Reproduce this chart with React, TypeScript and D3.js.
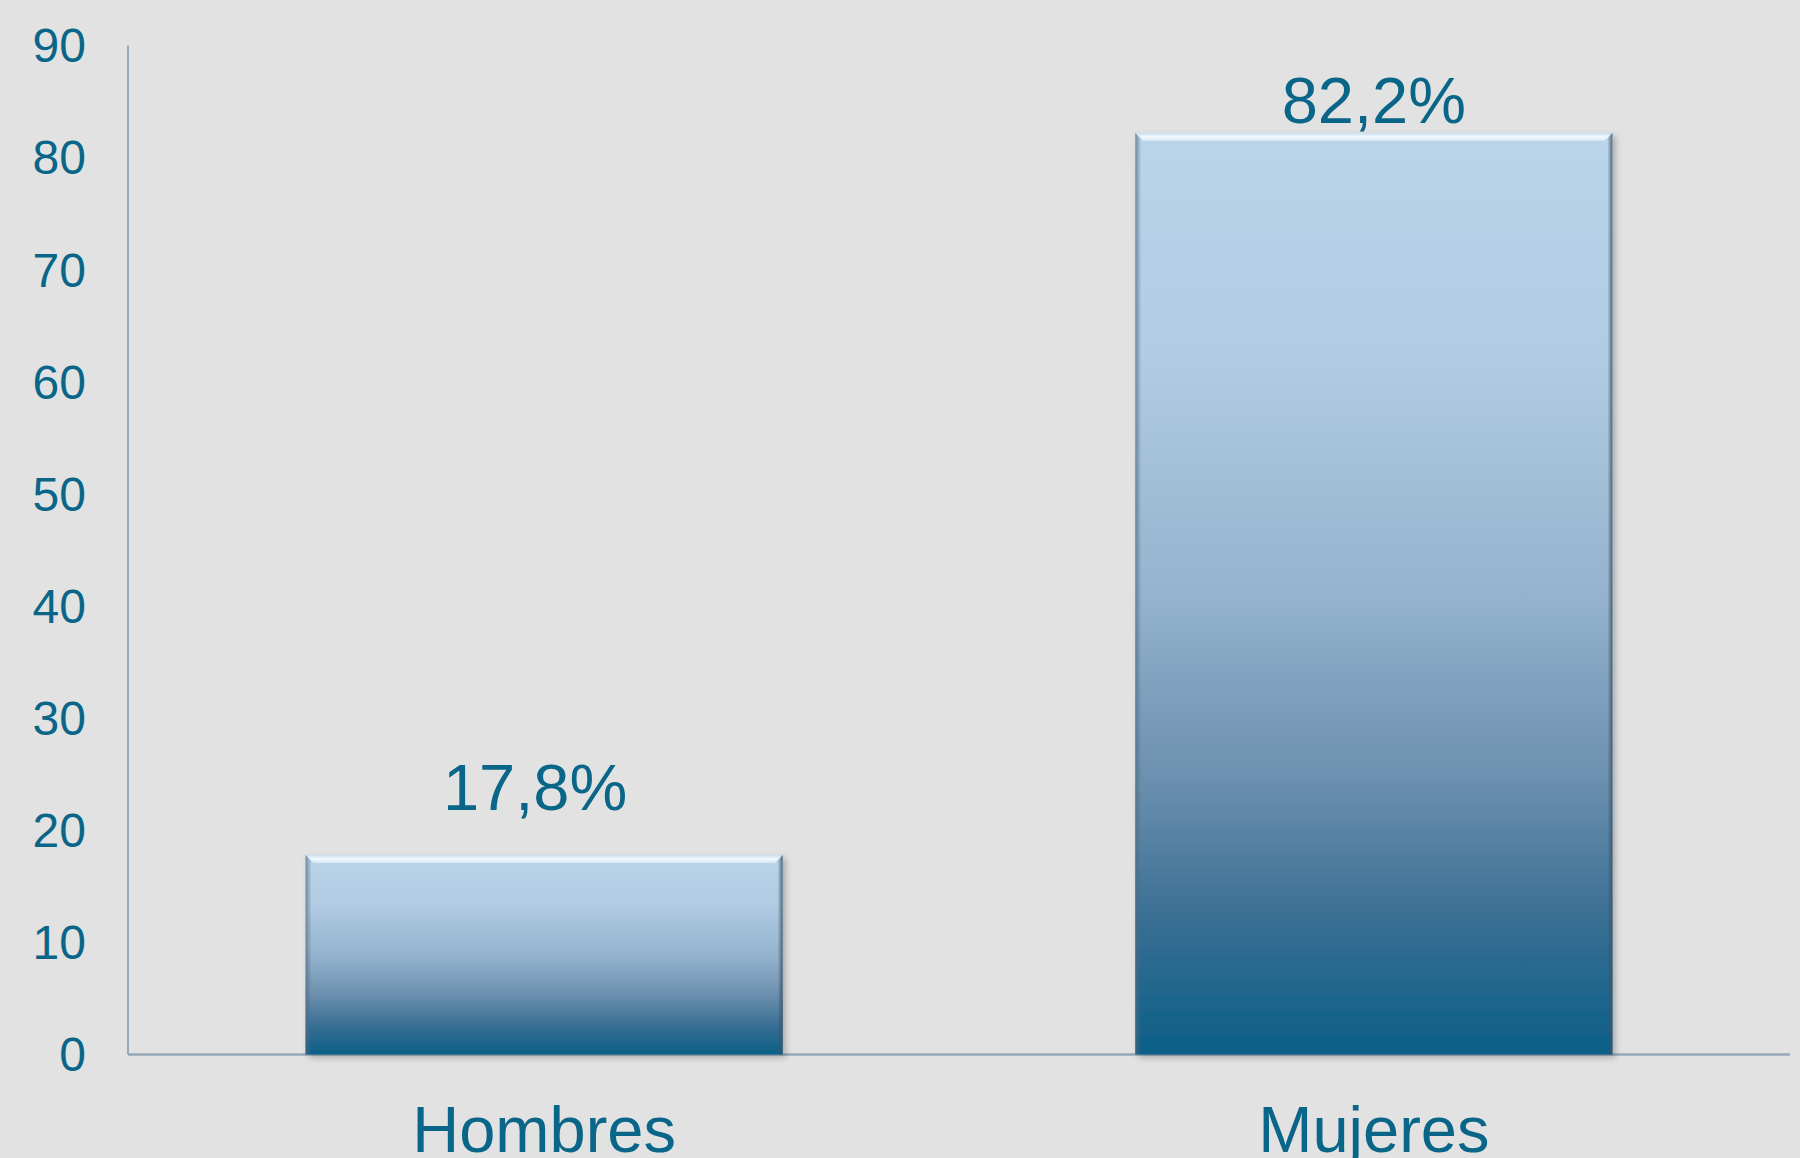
import React from "react";
import * as d3 from "d3";

const categories = ["Hombres", "Mujeres"];
const values = [17.8, 82.2];
const valueLabels = ["17,8%", "82,2%"];
const yTicks = [0, 10, 20, 30, 40, 50, 60, 70, 80, 90];

const W = 1800;
const H = 1158;
const TEXT = "#0A6688";
const FONT = "'Liberation Sans', Arial, Helvetica, sans-serif";

export default function App() {
  const x0 = 128;
  const x1 = 1790;
  const yBase = 1054.5;
  const y = d3.scaleLinear().domain([0, 90]).range([yBase, 45.5]);
  const x = d3
    .scaleBand<string>()
    .domain(categories)
    .range([x0, x1])
    .paddingInner(0.425)
    .paddingOuter(0.214);
  const bw = x.bandwidth();
  const labelDx = [-9, 0];
  const labelGap = [45, 10];

  return (
    <svg
      width={W}
      height={H}
      style={{ position: "absolute", left: 0, top: 0, display: "block" }}
    >
      <defs>
        <linearGradient id="barGrad" x1="0" y1="0" x2="0" y2="1">
          <stop offset="0" stopColor="#BAD4EA" />
          <stop offset="0.25" stopColor="#B0CBE2" />
          <stop offset="0.5" stopColor="#95B3CE" />
          <stop offset="0.7" stopColor="#6C90AF" />
          <stop offset="0.85" stopColor="#3A6F94" />
          <stop offset="1" stopColor="#0B5F87" />
        </linearGradient>
        <linearGradient id="leftEdge" x1="0" y1="0" x2="1" y2="0">
          <stop offset="0" stopColor="#4F6A80" stopOpacity="0.7" />
          <stop offset="1" stopColor="#4F6A80" stopOpacity="0" />
        </linearGradient>
        <linearGradient id="rightEdge" x1="0" y1="0" x2="1" y2="0">
          <stop offset="0" stopColor="#3D5366" stopOpacity="0" />
          <stop offset="1" stopColor="#3D5366" stopOpacity="0.85" />
        </linearGradient>
        <linearGradient id="topEdge" x1="0" y1="0" x2="0" y2="1">
          <stop offset="0" stopColor="#C9DDEB" />
          <stop offset="0.5" stopColor="#F2FAFE" />
          <stop offset="1" stopColor="#D4E6F3" />
        </linearGradient>
        <filter id="shadow" x="-10%" y="-10%" width="120%" height="120%">
          <feDropShadow dx="3" dy="3" stdDeviation="3" floodColor="#000" floodOpacity="0.25" />
        </filter>
      </defs>
      <rect x={0} y={0} width={W} height={H} fill="#E2E2E2" />

      {/* axes */}
      <line x1={x0} y1={y(90)} x2={x0} y2={yBase} stroke="#97A8B8" strokeWidth={2} />
      <line x1={x0} y1={yBase} x2={x1} y2={yBase} stroke="#97A8B8" strokeWidth={2.5} />

      {yTicks.map((t) => (
        <text
          key={t}
          x={86}
          y={y(t)}
          dy="0.35em"
          textAnchor="end"
          fill={TEXT}
          fontFamily={FONT}
          fontSize={48}
        >
          {t}
        </text>
      ))}

      {categories.map((c, i) => {
        const bx = x(c) as number;
        const by = y(values[i]);
        const bh = yBase - by;
        const e = 8;
        return (
          <g key={c}>
            <rect x={bx} y={by} width={bw} height={bh} fill="url(#barGrad)" filter="url(#shadow)" />
            <rect x={bx} y={by} width={6} height={bh} fill="url(#leftEdge)" />
            <rect x={bx + bw - 5} y={by} width={5} height={bh} fill="url(#rightEdge)" />
            <path
              d={`M${bx},${by} L${bx + bw},${by} L${bx + bw - e},${by + e} L${bx + e},${by + e} Z`}
              fill="url(#topEdge)"
            />
            <text
              x={bx + bw / 2 + labelDx[i]}
              y={by - labelGap[i]}
              textAnchor="middle"
              fill={TEXT}
              fontFamily={FONT}
              fontSize={65}
            >
              {valueLabels[i]}
            </text>
            <text
              x={bx + bw / 2}
              y={1152}
              textAnchor="middle"
              fill={TEXT}
              fontFamily={FONT}
              fontSize={65}
            >
              {c}
            </text>
          </g>
        );
      })}
    </svg>
  );
}
